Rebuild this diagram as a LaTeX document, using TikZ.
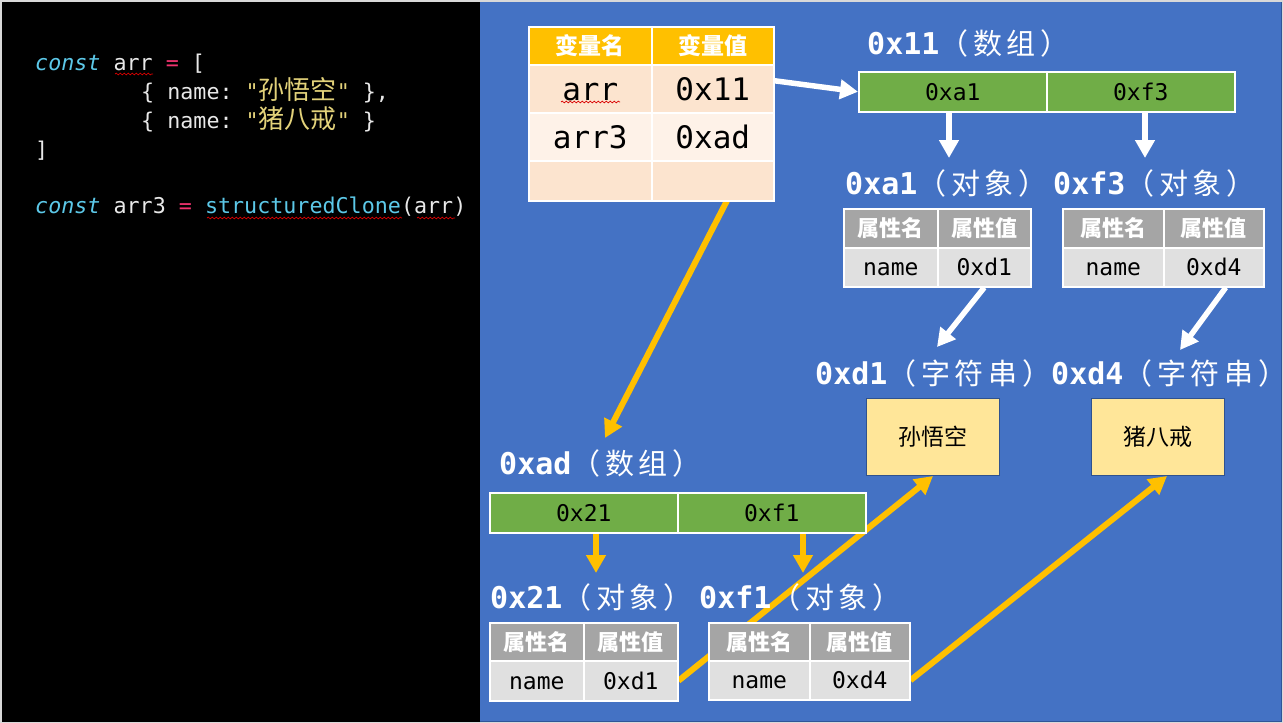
\documentclass[tikz,border=0pt]{standalone}
\usepackage{fontspec}
\setmonofont{DejaVu Sans Mono}
\newfontfamily\cjk{Noto Sans CJK SC}
\newfontfamily\cjkwide[LetterSpace=16]{Noto Sans CJK SC}
\usetikzlibrary{arrows.meta,decorations.pathmorphing}

\definecolor{panelblue}{HTML}{4472C4}
\definecolor{paneledge}{HTML}{2F5597}
\definecolor{tblorange}{HTML}{FFC000}
\definecolor{rowpeach}{HTML}{FCE4CF}
\definecolor{rowlight}{HTML}{FEF2E8}
\definecolor{bargreen}{HTML}{70AD47}
\definecolor{headgray}{HTML}{A5A5A5}
\definecolor{rowgray}{HTML}{E0E0E0}
\definecolor{boxyellow}{HTML}{FFE699}
\definecolor{boxedge}{HTML}{2F528F}
\definecolor{codefg}{HTML}{E8E8E8}
\definecolor{codekw}{HTML}{5CC8E8}
\definecolor{codeop}{HTML}{F2336F}
\definecolor{codestr}{HTML}{E3D27A}

\pgfdeclarelayer{back}
\pgfdeclarelayer{mid}
\pgfsetlayers{back,mid,main}

\tikzset{
	cell/.style={draw=white, line width=1.5pt, anchor=north west, inner sep=0pt},
	vhead/.style={cell, fill=tblorange, text=white, font=\cjk\bfseries\fontsize{23}{23}\selectfont, minimum height=38pt},
	vrow/.style={cell, font=\ttfamily\fontsize{31}{31}\selectfont, text height=22.5pt, text depth=0pt},
	bar/.style={cell, fill=bargreen, font=\ttfamily\fontsize{23}{23}\selectfont, text height=16.8pt, text depth=0pt, minimum width=188pt, minimum height=40pt},
	phead/.style={cell, fill=headgray, text=white, font=\cjk\bfseries\fontsize{22}{22}\selectfont, minimum height=39pt},
	prow/.style={cell, fill=rowgray, font=\ttfamily\fontsize{23}{23}\selectfont, text height=16.8pt, text depth=0pt, minimum height=39pt},
	title/.style={anchor=west, inner sep=0pt, text=white, font=\fontsize{30}{30}\selectfont},
	strbox/.style={draw=boxedge, line width=1pt, fill=boxyellow, anchor=north west, font=\cjk\fontsize{23}{23}\selectfont, minimum width=133pt, minimum height=77pt},
	codeline/.style={anchor=base west, inner sep=0pt, text=codefg, font=\ttfamily\fontsize{21.7}{21.7}\selectfont},
	squig/.style={red!85!black, line width=0.7pt, decorate, decoration={snake, amplitude=0.9pt, segment length=4pt}},
	warrow/.style={white, line width=5.5pt, -{Triangle[length=18pt, width=19pt]}},
	yarrow/.style={tblorange, line width=6pt, -{Triangle[length=18pt, width=19pt]}},
}

\newcommand{\hexlbl}[2]{{\ttfamily\bfseries #1}{\cjkwide\fontsize{29}{29}\selectfont （#2）\kern-0.7em}}

\begin{document}
\begin{tikzpicture}[x=1pt, y=-1pt]
	\useasboundingbox (0,0) rectangle (1283,723);

	% panels
	\begin{pgfonlayer}{back}
		\fill[black] (0,0) rectangle (480,723);
		\fill[panelblue] (480,0) rectangle (1283,723);
		\draw[paneledge, line width=1pt] (480,0) -- (1281,0) -- (1281,721) -- (480,721);
		\draw[black!15, line width=1.5pt] (0.75,0.75) rectangle (1282.25,722.25);
	\end{pgfonlayer}

	% code
	\node[codeline] (code1) at (35,70) {{\itshape\color{codekw}const} arr {\color{codeop}=} [};
	\node[codeline] (code2) at (141,99) {\{ name: {\color{codestr}"{\cjk\fontsize{26}{26}\selectfont 孙悟空}"} \},};
	\node[codeline] (code3) at (141,128) {\{ name: {\color{codestr}"{\cjk\fontsize{26}{26}\selectfont 猪八戒}"} \}};
	\node[codeline] (code4) at (35,157) {]};
	\node[codeline] (code5) at (35,213) {{\itshape\color{codekw}const} arr3 {\color{codeop}=} {\color{codekw}structuredClone}(arr)};
	\draw[squig] (115,74) -- (153,74);
	\draw[squig] (207,218) -- (402,218);
	\draw[squig] (417,218) -- (455,218);

	% variable table
	\node[vhead, minimum width=123pt] (vh1) at (528,26) {变量名};
	\node[vhead, minimum width=122pt] (vh2) at (651,26) {变量值};
	\node[vrow, fill=rowpeach, minimum width=123pt, minimum height=48pt] (v11) at (528,64) {arr};
	\node[vrow, fill=rowpeach, minimum width=122pt, minimum height=48pt] (v12) at (651,64) {0x11};
	\node[vrow, fill=rowlight, minimum width=123pt, minimum height=48pt] (v21) at (528,112) {arr3};
	\node[vrow, fill=rowlight, minimum width=122pt, minimum height=48pt] (v22) at (651,112) {0xad};
	\node[vrow, fill=rowpeach, minimum width=123pt, minimum height=40pt] (v31) at (528,160) {};
	\node[vrow, fill=rowpeach, minimum width=122pt, minimum height=40pt] (v32) at (651,160) {};
	\draw[squig] (561,102) -- (620,102);

	% array 0x11
	\node[title] (t11) at (867,43) {\hexlbl{0x11}{数组}};
	\node[bar] (b-a1) at (858,71) {0xa1};
	\node[bar] (b-f3) at (1046,71) {0xf3};

	% objects 0xa1, 0xf3
	\node[title] (ta1) at (845,183) {\hexlbl{0xa1}{对象}};
	\node[title] (tf3) at (1053,183) {\hexlbl{0xf3}{对象}};
	\node[phead, minimum width=94pt] (pa1-h1) at (843,208) {属性名};
	\node[phead, minimum width=93pt] (pa1-h2) at (937,208) {属性值};
	\node[prow, minimum width=94pt] (pa1-n) at (843,247) {name};
	\node[prow, minimum width=93pt] (pa1-v) at (937,247) {0xd1};
	\node[phead, minimum width=101pt] (pf3-h1) at (1062,208) {属性名};
	\node[phead, minimum width=100pt] (pf3-h2) at (1163,208) {属性值};
	\node[prow, minimum width=101pt] (pf3-n) at (1062,247) {name};
	\node[prow, minimum width=100pt] (pf3-v) at (1163,247) {0xd4};

	% strings
	\node[title] (td1) at (815,373) {\hexlbl{0xd1}{字符串}};
	\node[title] (td4) at (1051,373) {\hexlbl{0xd4}{字符串}};
	\node[strbox] (s-sun) at (866,398) {孙悟空};
	\node[strbox] (s-zhu) at (1091,398) {猪八戒};

	% array 0xad
	\node[title] (tad) at (499,463) {\hexlbl{0xad}{数组}};
	\node[bar] (b-21) at (489,492) {0x21};
	\node[bar] (b-f1) at (677,492) {0xf1};

	% objects 0x21, 0xf1
	\node[title] (t21) at (490,597) {\hexlbl{0x21}{对象}};
	\node[title] (tf1) at (699,597) {\hexlbl{0xf1}{对象}};
	\node[phead, minimum width=94pt, minimum height=38pt] (p21-h1) at (489,622) {属性名};
	\node[phead, minimum width=94pt, minimum height=38pt] (p21-h2) at (583,622) {属性值};
	\node[prow, minimum width=94pt, minimum height=40pt] (p21-n) at (489,660) {name};
	\node[prow, minimum width=94pt, minimum height=40pt] (p21-v) at (583,660) {0xd1};
	\node[phead, minimum width=101pt, minimum height=38pt] (pf1-h1) at (708,622) {属性名};
	\node[phead, minimum width=100pt, minimum height=38pt] (pf1-h2) at (809,622) {属性值};
	\node[prow, minimum width=101pt] (pf1-n) at (708,660) {name};
	\node[prow, minimum width=100pt] (pf1-v) at (809,660) {0xd4};

	% arrow ends
	\coordinate (tip-a1) at (949,158);
	\coordinate (tip-f3) at (1145,158);
	\coordinate (tip-d1) at (937,347);
	\coordinate (tip-d4) at (1180,350);
	\coordinate (tip-ad) at (605,438);
	\coordinate (tip-21) at (596,573);
	\coordinate (tip-f1) at (803,573);

	\begin{pgfonlayer}{mid}
		\draw[warrow] ([yshift=8pt]v12.east) -- (b-a1.west);
		\draw[warrow] (b-a1.south -| tip-a1) -- (tip-a1);
		\draw[warrow] (b-f3.south -| tip-f3) -- (tip-f3);
		\draw[warrow] (pa1-v.south) -- (tip-d1);
		\draw[warrow] ([xshift=12pt]pf3-v.south) -- (tip-d4);

		\draw[yarrow] ([xshift=26pt, yshift=3pt]v32.center) -- (tip-ad);
		\draw[yarrow] (b-21.south -| tip-21) -- (tip-21);
		\draw[yarrow] (b-f1.south -| tip-f1) -- (tip-f1);
		\draw[yarrow] (p21-v.east) -- (s-sun.south);
		\draw[yarrow] (pf1-v.east) -- ([xshift=9pt]s-zhu.south);
	\end{pgfonlayer}

\end{tikzpicture}
\end{document}
